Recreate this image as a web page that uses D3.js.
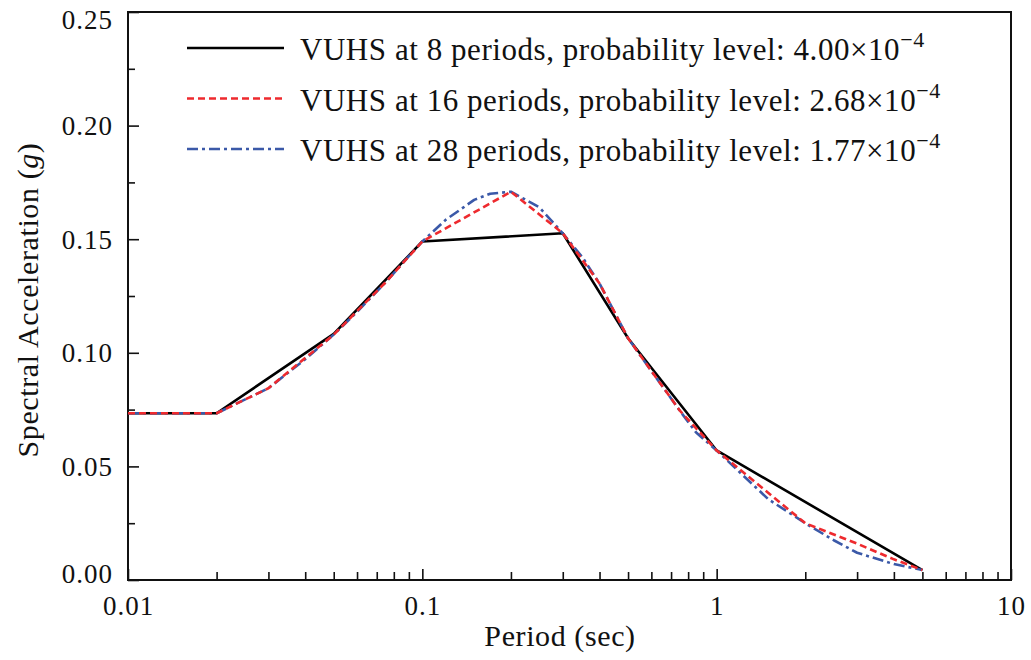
<!DOCTYPE html>
<html>
<head>
<meta charset="utf-8">
<script src="https://cdn.jsdelivr.net/npm/d3@7"></script>
<style>
  html, body { margin: 0; padding: 0; background: #fff; }
  svg { display: block; }
</style>
</head>
<body>
<svg id="chart" width="1031" height="660" font-family="Liberation Serif, Times New Roman, Times, serif"></svg>
<script>
// ---- data ----
const blackPeriods = [0.01, 0.02, 0.05, 0.1, 0.3, 0.5, 1, 5];
const blackSA      = [0.0734, 0.0734, 0.1083, 0.1490, 0.1526, 0.1064, 0.0570, 0.0044];

const redPeriods = [0.01, 0.02, 0.03, 0.05, 0.075, 0.1, 0.2, 0.3, 0.4, 0.5, 0.75, 1, 2, 3, 4, 5];
const redSA      = [0.0734, 0.0734, 0.0844, 0.1080, 0.1310, 0.1490, 0.1709, 0.1526, 0.1305, 0.1064, 0.0745, 0.0570, 0.0250, 0.0160, 0.0091, 0.0044];

const bluePeriods = [0.01, 0.02, 0.03, 0.04, 0.05, 0.06, 0.075, 0.09, 0.1, 0.12, 0.15, 0.17, 0.2, 0.25, 0.3, 0.35, 0.4, 0.5, 0.6, 0.75, 0.85, 1, 1.5, 2, 2.5, 3, 4, 5];
const blueSA      = [0.0734, 0.0734, 0.0844, 0.0972, 0.1080, 0.1180, 0.1310, 0.1425, 0.1490, 0.1585, 0.1673, 0.1700, 0.1709, 0.1640, 0.1526, 0.1420, 0.1305, 0.1064, 0.0920, 0.0745, 0.0650, 0.0570, 0.0355, 0.0250, 0.0175, 0.0120, 0.0070, 0.0044];

const xMajorTicks = [0.01, 0.1, 1, 10];
const xTickLabels = ["0.01", "0.1", "1", "10"];
const yMajorTicks = [0, 0.05, 0.10, 0.15, 0.20, 0.25];
const yTickLabels = ["0.00", "0.05", "0.10", "0.15", "0.20", "0.25"];

const legendLabels = [
  "VUHS at 8 periods, probability level: 4.00\u00D710",
  "VUHS at 16 periods, probability level: 2.68\u00D710",
  "VUHS at 28 periods, probability level: 1.77\u00D710"
];
const legendExponent = "\u22124";

// ---- layout ----
const FONT = "Liberation Serif";
const L = 128, R = 1011, T = 12, B = 580;
const svg = d3.select("#chart");

const x = d3.scaleLog().domain([0.01, 10]).range([L, R]);
const y = d3.scaleLinear().domain([0, 0.25]).range([B, T]);

// minor ticks
const xMinor = [];
for (let e = -2; e < 1; e++) for (let m = 2; m <= 9; m++) xMinor.push(m * Math.pow(10, e));
const yMinor = d3.range(0.025, 0.25, 0.05);

// x axis
const gx = svg.append("g").attr("transform", `translate(0,${B})`);
gx.call(d3.axisBottom(x).tickValues(xMinor).tickSize(-8).tickFormat(""));
gx.select(".domain").remove();
const gx2 = svg.append("g").attr("transform", `translate(0,${B})`);
gx2.call(d3.axisBottom(x).tickValues(xMajorTicks).tickSize(-11)
  .tickFormat((d, i) => xTickLabels[i]));
gx2.select(".domain").remove();
gx2.attr("font-family", FONT).attr("font-size", 27).attr("letter-spacing", 1);
gx2.selectAll("text").attr("y", 35).attr("dy", 0).attr("fill", "#111");
[gx, gx2].forEach(g => g.selectAll("line").attr("stroke", "#111").attr("stroke-width", 1.6));

// y axis
const gy = svg.append("g").attr("transform", `translate(${L},0)`);
gy.call(d3.axisLeft(y).tickValues(yMinor).tickSize(-7).tickFormat(""));
gy.select(".domain").remove();
const gy2 = svg.append("g").attr("transform", `translate(${L},0)`);
gy2.call(d3.axisLeft(y).tickValues(yMajorTicks).tickSize(-11)
  .tickFormat((d, i) => yTickLabels[i]));
gy2.select(".domain").remove();
gy2.attr("font-family", FONT).attr("font-size", 27).attr("letter-spacing", 1);
gy2.selectAll("text").attr("x", -15).attr("fill", "#111")
  .attr("dy", (d, i) => i === 0 ? "0.08em" : (i === yMajorTicks.length - 1 ? "0.6em" : "0.34em"));
[gy, gy2].forEach(g => g.selectAll("line").attr("stroke", "#111").attr("stroke-width", 1.6));

// frame
svg.append("rect").attr("x", L).attr("y", T).attr("width", R - L).attr("height", B - T)
  .attr("fill", "none").attr("stroke", "#111").attr("stroke-width", 2);

// lines
const line = d3.line().x(d => x(d[0])).y(d => y(d[1]));
const series = [
  { p: blackPeriods, v: blackSA, color: "#000000", dash: null },
  { p: bluePeriods, v: blueSA, color: "#3b59a8", dash: "11,4,3,4" },
  { p: redPeriods, v: redSA, color: "#ee2a2e", dash: "7,4" }
];
series.forEach(s => {
  svg.append("path")
    .datum(s.p.map((p, i) => [p, s.v[i]]))
    .attr("d", line)
    .attr("fill", "none")
    .attr("stroke", s.color)
    .attr("stroke-width", 2.6)
    .attr("stroke-linejoin", "round")
    .attr("stroke-dasharray", s.dash);
});

// legend
const legendOrder = [series[0], series[2], series[1]];
legendOrder.forEach((s, i) => {
  const yy = 48 + i * 50.5;
  svg.append("line").attr("x1", 187).attr("x2", 284).attr("y1", yy).attr("y2", yy)
    .attr("stroke", s.color).attr("stroke-width", 2.6).attr("stroke-dasharray", s.dash);
  const t = svg.append("text").attr("x", 300).attr("y", yy + 12)
    .attr("font-family", FONT).attr("font-size", 31).attr("letter-spacing", 0.55).attr("fill", "#111");
  t.append("tspan").text(legendLabels[i]);
  t.append("tspan").attr("dy", -13).attr("font-size", 22).text(legendExponent);
});

// axis titles
svg.append("text").attr("x", 560).attr("y", 646).attr("text-anchor", "middle")
  .attr("font-family", FONT).attr("font-size", 30).attr("letter-spacing", 0.6)
  .attr("fill", "#111").text("Period (sec)");
const yt = svg.append("text").attr("transform", `translate(38,${(T + B) / 2 + 4}) rotate(-90)`)
  .attr("text-anchor", "middle").attr("font-family", FONT).attr("font-size", 30)
  .attr("letter-spacing", 0.6).attr("fill", "#111");
yt.append("tspan").text("Spectral Acceleration (");
yt.append("tspan").attr("font-style", "italic").text("g");
yt.append("tspan").text(")");
</script>
</body>
</html>
